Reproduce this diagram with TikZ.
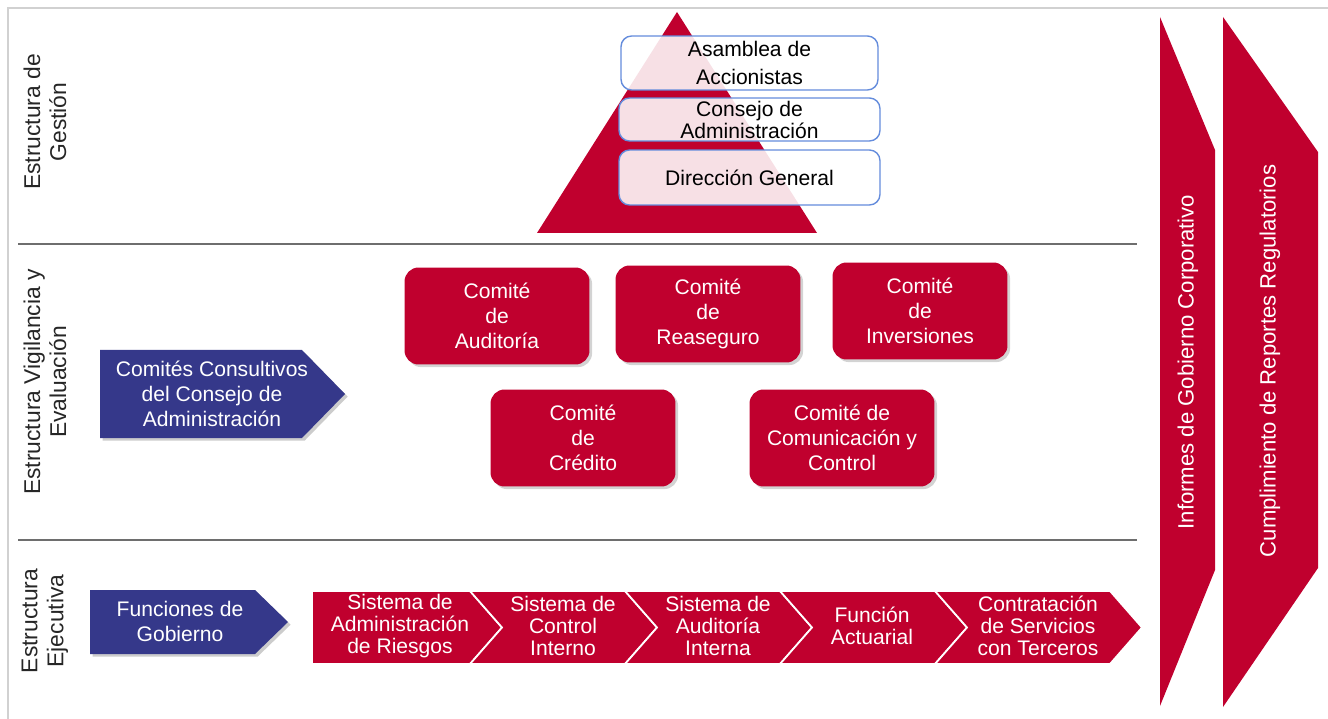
\documentclass[tikz,border=0pt]{standalone}
\usepackage{fontspec}
\setmainfont{Liberation Sans}
\usetikzlibrary{shadows}
\definecolor{rojo}{RGB}{192,0,46}
\definecolor{azul}{RGB}{53,56,138}
\definecolor{borde}{RGB}{100,140,220}
\definecolor{linea}{RGB}{110,110,110}
\tikzset{
  lbl/.style={rotate=90, align=center, text=black!85, font=\fontsize{13}{14.8}\selectfont},
  pbox/.style={draw=borde, line width=0.8pt, fill=white, fill opacity=0.88, text opacity=1,
    rounded corners=6pt, align=center, inner sep=0pt, font=\fontsize{12}{14}\selectfont},
  comite/.style={fill=rojo, rounded corners=8pt, text=white, align=center, inner sep=0pt,
    minimum width=3.7cm, minimum height=1.94cm, font=\fontsize{12}{14.2}\selectfont,
    drop shadow={shadow xshift=1.5pt, shadow yshift=-1.5pt, opacity=0.35}},
  bluearrow/.style={fill=azul, drop shadow={shadow xshift=1.5pt, shadow yshift=-1.5pt, opacity=0.4}},
  btext/.style={text=white, align=center, font=\fontsize{12}{14.2}\selectfont},
  chev/.style={fill=rojo, draw=white, line width=1pt},
  ctext/.style={text=white, align=center, font=\fontsize{12}{12.5}\selectfont},
  vtext/.style={rotate=90, text=white, font=\fontsize{12.6}{14}\selectfont},
  sep/.style={draw=linea, line width=1.1pt}
}
\begin{document}
\begin{tikzpicture}[x=0.02cm,y=-0.02cm]
\useasboundingbox (0,0) rectangle (1328,719);
% frame
\draw[black!18, line width=1.2pt] (8,719) -- (8,8) -- (1328,8);
% separators
\coordinate (s1a) at (18,244); \coordinate (s1b) at (1137,244);
\coordinate (s2a) at (18,540); \coordinate (s2b) at (1137,540);
\draw[sep] (s1a) -- (s1b);
\draw[sep] (s2a) -- (s2b);
% left labels
\node[lbl] (lg) at (45,122) {Estructura de\\Gestión};
\node[lbl] (lv) at (45,382) {Estructura Vigilancia y\\Evaluación};
\node[lbl] (le) at (45,621) {Estructura\\Ejecutiva};
% pyramid
\fill[rojo] (677,12) -- (817,233) -- (537,233) -- cycle;
\node[pbox, minimum width=5.14cm, minimum height=1.08cm, font=\fontsize{12}{16.4}\selectfont] (asam) at (749.5,63) {Asamblea de\\Accionistas};
\node[pbox, minimum width=5.22cm, minimum height=0.86cm, font=\fontsize{12}{12.5}\selectfont] (cons) at (749.5,119.5) {Consejo de\\Administración};
\node[pbox, minimum width=5.22cm, minimum height=1.10cm] (dir) at (749.5,177.5) {Dirección General};
% committees
\node[comite] (aud) at (497,316) {Comité\\de\\Auditoría};
\node[comite] (rea) at (708,314) {Comité\\de\\Reaseguro};
\node[comite, minimum width=3.5cm] (inv) at (920,311) {Comité\\de\\Inversiones};
\node[comite] (cre) at (583,438) {Comité\\de\\Crédito};
\node[comite] (com) at (842,438) {Comité de\\Comunicación y\\Control};
% blue arrows
\path[bluearrow] (100,350) -- (302,350) -- (345,394) -- (302,438) -- (100,438) -- cycle;
\node[btext] (ccca) at (212,394) {Comités Consultivos\\del Consejo de\\Administración};
\path[bluearrow] (90,590) -- (255,590) -- (288,622) -- (255,654) -- (90,654) -- cycle;
\node[btext] (fg) at (180,621) {Funciones de\\Gobierno};
% chevrons
\path[chev] (312,591) -- (470,591) -- (502,627.5) -- (470,664) -- (312,664) -- cycle;
\path[chev] (470,591) -- (625,591) -- (657,627.5) -- (625,664) -- (470,664) -- (502,627.5) -- cycle;
\path[chev] (625,591) -- (780,591) -- (812,627.5) -- (780,664) -- (625,664) -- (657,627.5) -- cycle;
\path[chev] (780,591) -- (935,591) -- (967,627.5) -- (935,664) -- (780,664) -- (812,627.5) -- cycle;
\path[chev] (935,591) -- (1110,591) -- (1142,627.5) -- (1110,664) -- (935,664) -- (967,627.5) -- cycle;
\node[ctext] (c1) at (400,626) {Sistema de\\Administración\\de Riesgos};
\node[ctext] (c2) at (563,626) {Sistema de\\Control\\Interno};
\node[ctext] (c3) at (718,626) {Sistema de\\Auditoría\\Interna};
\node[ctext] (c4) at (872,626) {Función\\Actuarial};
\node[ctext] (c5) at (1038,626) {Contratación\\de Servicios\\con Terceros};
% right vertical arrows
\fill[rojo] (1160,17) -- (1215,150) -- (1215,570) -- (1160,706) -- cycle;
\fill[rojo] (1223,17) -- (1318,152) -- (1318,568) -- (1223,707) -- cycle;
\node[vtext] (inf) at (1188,362) {Informes de Gobierno Corporativo};
\node[vtext] (cum) at (1270,361) {Cumplimiento de Reportes Regulatorios};
\end{tikzpicture}
\end{document}
